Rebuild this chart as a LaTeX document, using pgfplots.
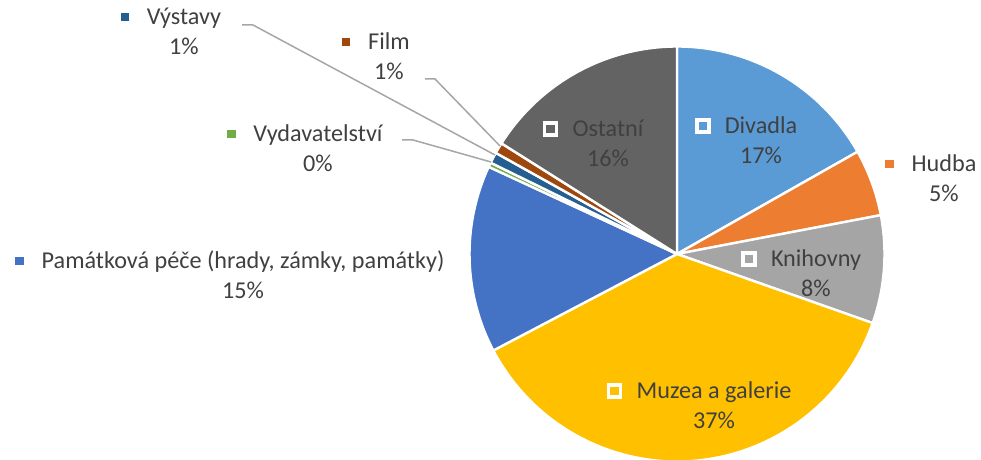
\documentclass[border=0pt]{standalone}
\usepackage{pgfplots}
\pgfplotsset{compat=1.18}
\usepackage{pgfplotstable}
\usepackage{fontspec}
\setmainfont{Carlito}
\definecolor{cDiv}{HTML}{5B9BD5}
\definecolor{cHud}{HTML}{ED7D31}
\definecolor{cKni}{HTML}{A5A5A5}
\definecolor{cMuz}{HTML}{FFC000}
\definecolor{cPam}{HTML}{4472C4}
\definecolor{cVyd}{HTML}{70AD47}
\definecolor{cVys}{HTML}{255E91}
\definecolor{cFil}{HTML}{9E480E}
\definecolor{cOst}{HTML}{636363}
\definecolor{txt}{HTML}{404040}
\definecolor{lead}{HTML}{A6A6A6}
% share of each category in percent, clockwise from 12 o'clock
\pgfplotstableread{
value color
16.8  cDiv
5.2   cHud
8.4   cKni
36.9  cMuz
14.6  cPam
0.35  cVyd
0.85  cVys
0.85  cFil
16.05 cOst
}\piedata
\newcommand{\plabel}[5]{%
  \node[anchor=base, inner sep=0, text=txt] (L) at (axis cs:#1,#2) {#4};
  \node[anchor=base, inner sep=0, text=txt] at (axis cs:#1,#2-30) {#5};
  \node[fill=#3, draw=white, line width=1.8pt, minimum size=6pt, inner sep=0] at ([xshift=-10.8pt, yshift=3.9pt]L.base west) {};
}
\begin{document}
\begin{tikzpicture}[font=\fontsize{12.1}{15}\selectfont]
\useasboundingbox (0,0) rectangle (490.5pt,230pt);
\begin{axis}[
  at={(0,0)}, anchor=south west,
  width=490.5pt, height=230pt, scale only axis,
  xmin=0, xmax=981, ymin=0, ymax=460,
  hide axis, clip=false]
\def\wcum{0}
\pgfplotsforeachungrouped \i in {0,...,8}{%
  \pgfplotstablegetelem{\i}{value}\of\piedata
  \let\wval=\pgfplotsretval
  \pgfplotstablegetelem{\i}{color}\of\piedata
  \let\wcol=\pgfplotsretval
  \pgfmathsetmacro{\wa}{90-3.6*\wcum}%
  \pgfmathsetmacro{\wb}{90-3.6*(\wcum+\wval)}%
  \edef\temp{\noexpand\filldraw[fill=\wcol, draw=white, line width=1.2pt, line join=round] (axis cs:677,206) -- ++(\wa:103.75pt) arc[start angle=\wa, end angle=\wb, radius=103.75pt] -- cycle;}%
  \temp
  \pgfmathsetmacro{\wcum}{\wcum+\wval}%
}
% leader lines
\draw[lead, line width=0.75pt] (axis cs:242,435) -- (axis cs:253,435) -- (axis cs:495,305);
\draw[lead, line width=0.75pt] (axis cs:425,381) -- (axis cs:435,381) -- (axis cs:500,314);
\draw[lead, line width=0.75pt] (axis cs:402,320) -- (axis cs:413,320) -- (axis cs:491,298);
% labels: x, baseline y, colour, name, percent
\plabel{761}{326}{cDiv}{Divadla}{17\%}
\plabel{944}{288}{cHud}{Hudba}{5\%}
\plabel{816}{193}{cKni}{Knihovny}{8\%}
\plabel{714}{61}{cMuz}{Muzea a galerie}{37\%}
\plabel{243}{191}{cPam}{Památková péče (hrady, zámky, památky)}{15\%}
\plabel{318}{318}{cVyd}{Vydavatelství}{0\%}
\plabel{184}{435}{cVys}{Výstavy}{1\%}
\plabel{389}{410}{cFil}{Film}{1\%}
\plabel{608}{323}{cOst}{Ostatní}{16\%}
\end{axis}
\end{tikzpicture}
\end{document}
